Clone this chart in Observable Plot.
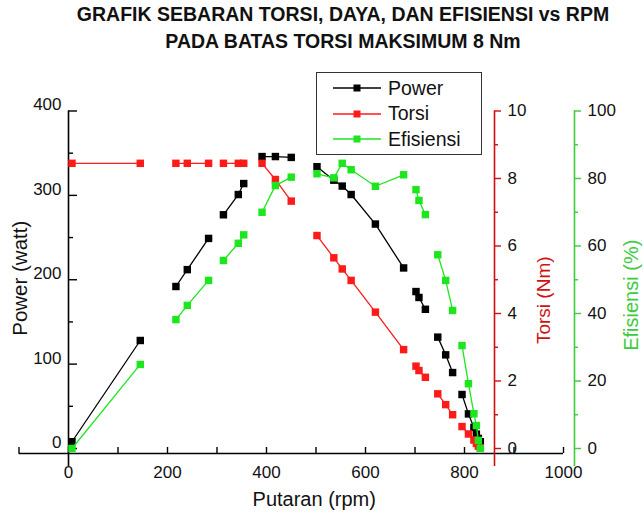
<!DOCTYPE html>
<html>
<head>
<meta charset="utf-8">
<script src="https://cdn.jsdelivr.net/npm/d3@7"></script>
<script src="https://cdn.jsdelivr.net/npm/@observablehq/plot@0.6"></script>
<style>
  html, body { margin: 0; padding: 0; background: #fff; }
  #wrap { position: relative; width: 643px; height: 516px; font-family: "Liberation Sans", Arial, sans-serif; }
  #title { height: 60px; box-sizing: border-box; padding-top: 1px; padding-left: 43px; text-align: center;
           font-weight: bold; font-size: 19.5px; line-height: 27px; color: #111; }
  #legend { position: absolute; left: 316px; top: 72px; width: 166px; height: 83px; box-sizing: border-box;
            border: 1px solid #333; background: #fff; }
  .li { position: absolute; left: 0; height: 24px; display: flex; align-items: center; font-size: 19.5px; color: #111; }
  .li svg { margin-left: 16px; margin-right: 7px; }
</style>
</head>
<body>
<div id="wrap">
  <div id="title">GRAFIK SEBARAN TORSI, DAYA, DAN EFISIENSI vs RPM<br>PADA BATAS TORSI MAKSIMUM 8 Nm</div>
  <div id="chart"></div>
  <div id="legend"></div>
</div>
<script>
// ---- data ----
const rpm   = [7, 145, 217, 240, 283, 313, 343, 354, 391, 418, 450, 502, 536, 553, 571, 620, 677, 702, 708, 721, 746, 762, 776, 795, 808, 819, 824, 828, 832];
const power = [8, 128, 192, 212, 249, 277, 301, 314, 346, 346, 345, 334, 318, 311, 301, 266, 214, 186, 179, 165, 132, 111, 90, 64, 41, 25, 17, 12, 8];
const torsi = [8.45, 8.45, 8.45, 8.45, 8.45, 8.45, 8.45, 8.45, 8.45, 7.97, 7.33, 6.31, 5.65, 5.32, 4.98, 4.04, 2.93, 2.44, 2.31, 2.11, 1.62, 1.30, 1.00, 0.65, 0.43, 0.25, 0.15, 0.07, 0.02];
const efisiensi = [0, 24.9, 38.2, 42.4, 49.8, 55.7, 60.8, 63.3, 70.0, 77.9, 80.4, 81.4, 80.2, 84.5, 82.6, 77.7, 81.1, 76.7, 73.5, 69.3, 57.4, 49.8, 40.9, 30.5, 19.2, 10.3, 6.8, 2.4, 0];
const run   = [1, 1, 2, 2, 2, 3, 3, 3, 4, 4, 4, 5, 5, 5, 5, 5, 5, 6, 6, 6, 7, 7, 7, 8, 8, 8, 8, 8, 8];

const xMajor = [0, 200, 400, 600, 800, 1000];
const xMinor = [-100, 100, 300, 500, 700, 900];
const powerMajor = [0, 100, 200, 300, 400];
const powerMinor = [50, 150, 250, 350];
const torsiMajor = [0, 2, 4, 6, 8, 10];
const torsiMinor = [1, 3, 5, 7, 9];
const effMajor = [0, 20, 40, 60, 80, 100];
const effMinor = [10, 30, 50, 70, 90];

const series = [
  {name: "Power", color: "#000000"},
  {name: "Torsi", color: "#ff1a1a"},
  {name: "Efisiensi", color: "#1ee61e"}
];

// ---- layout ----
const W = 643, H = 456;
const mL = 18.5, mR = 80, mT = 50.5, mB = 63;
const yBottom = -5.93, yTop = 400;
const xLo = -100, xHi = 1000;
const kx = (W - mL - mR) / (xHi - xLo);        // px per rpm
const ky = (H - mT - mB) / (yTop - yBottom);   // px per watt
const torsiScale = 40;   // 10 Nm  <-> 400 W
const effScale = 4;      // 100 %  <-> 400 W
const axisLow = -21.3;   // y axes run a little below the x axis
const torsiAxisX = 860.6, effAxisX = 1022.2;
const redAxis = "#d01010", greenAxis = "#3ccc3c";
const font = 17;

const rows = rpm.map((r, i) => ({rpm: r, power: power[i], torsi: torsi[i], eff: efisiensi[i], run: run[i]}));

function rightAxis(ax, major, minor, f, color) {
  return [
    Plot.ruleX([ax], {y1: axisLow, y2: yTop, stroke: color, strokeWidth: 1.6}),
    Plot.ruleY(major, {y: d => d * f, x1: ax, x2: ax + 7 / kx, stroke: color, strokeWidth: 1.4}),
    Plot.ruleY(minor, {y: d => d * f, x1: ax, x2: ax + 4 / kx, stroke: color, strokeWidth: 1.4}),
    Plot.text(major, {x: ax, y: d => d * f, text: d => String(d), textAnchor: "start", dx: 13, fontSize: font, fill: "#111"})
  ];
}

const chart = Plot.plot({
  width: W, height: H,
  marginLeft: mL, marginRight: mR, marginTop: mT, marginBottom: mB,
  x: {domain: [xLo, xHi], axis: null},
  y: {domain: [yBottom, yTop], axis: null},
  style: {fontFamily: "'Liberation Sans', Arial, sans-serif", fontSize: "17px", background: "white", overflow: "visible"},
  marks: [
    // x axis
    Plot.ruleY([yBottom], {x1: xLo, x2: xHi, stroke: "#000", strokeWidth: 1.6}),
    Plot.ruleX(xMajor.concat(xMinor), {x: d => d, y1: yBottom, y2: yBottom + 6 / ky, stroke: "#000", strokeWidth: 1.4}),
    Plot.text(xMajor, {x: d => d, y: yBottom, dy: 19, text: d => String(d), fontSize: font, fill: "#111"}),
    Plot.text(["Putaran (rpm)"], {frameAnchor: "bottom", textAnchor: "middle", dx: 23, dy: 52, fontSize: 20, fill: "#111"}),
    // left (Power) axis
    Plot.ruleX([0], {y1: axisLow, y2: yTop, stroke: "#000", strokeWidth: 1.6}),
    Plot.ruleY(powerMajor, {y: d => d, x1: 0, x2: 9 / kx, stroke: "#000", strokeWidth: 1.4}),
    Plot.ruleY(powerMinor, {y: d => d, x1: 0, x2: 5 / kx, stroke: "#000", strokeWidth: 1.4}),
    Plot.text(powerMajor, {x: 0, y: d => d, text: d => String(d), textAnchor: "end", dx: -7, dy: -6, fontSize: font, fill: "#111"}),
    Plot.text(["Power (watt)"], {frameAnchor: "left", textAnchor: "middle", rotate: -90, dx: 1.5, dy: -4, fontSize: 20.5, fill: "#111"}),
    // right axes
    ...rightAxis(torsiAxisX, torsiMajor, torsiMinor, torsiScale, redAxis),
    Plot.text(["Torsi (Nm)"], {frameAnchor: "right", textAnchor: "middle", rotate: -90, dx: -19.5, dy: 18, fontSize: 19, fill: redAxis}),
    ...rightAxis(effAxisX, effMajor, effMinor, effScale, greenAxis),
    Plot.text(["Efisiensi (%)"], {frameAnchor: "right", textAnchor: "middle", rotate: -90, dx: 68.5, dy: 13, fontSize: 20, fill: greenAxis}),
    // data
    Plot.line(rows, {x: "rpm", y: "power", z: "run", stroke: series[0].color, strokeWidth: 1.3}),
    Plot.dot(rows, {x: "rpm", y: "power", symbol: "square", r: 4.2, fill: series[0].color}),
    Plot.line(rows, {x: "rpm", y: d => d.torsi * torsiScale, z: "run", stroke: series[1].color, strokeWidth: 1.3}),
    Plot.dot(rows, {x: "rpm", y: d => d.torsi * torsiScale, symbol: "square", r: 4.2, fill: series[1].color}),
    Plot.line(rows, {x: "rpm", y: d => d.eff * effScale, z: "run", stroke: series[2].color, strokeWidth: 1.3}),
    Plot.dot(rows, {x: "rpm", y: d => d.eff * effScale, symbol: "square", r: 4.2, fill: series[2].color})
  ]
});
document.getElementById("chart").appendChild(chart);

// legend
const legend = document.getElementById("legend");
series.forEach((s, i) => {
  const item = document.createElement("div");
  item.className = "li";
  item.style.top = (3 + i * 25.5) + "px";
  item.innerHTML = `<svg width="48" height="10"><line x1="0" y1="5" x2="48" y2="5" stroke="${s.color}" stroke-width="1.3"/><rect x="20.5" y="1.5" width="7" height="7" fill="${s.color}"/></svg><span>${s.name}</span>`;
  legend.appendChild(item);
});
</script>
</body>
</html>
